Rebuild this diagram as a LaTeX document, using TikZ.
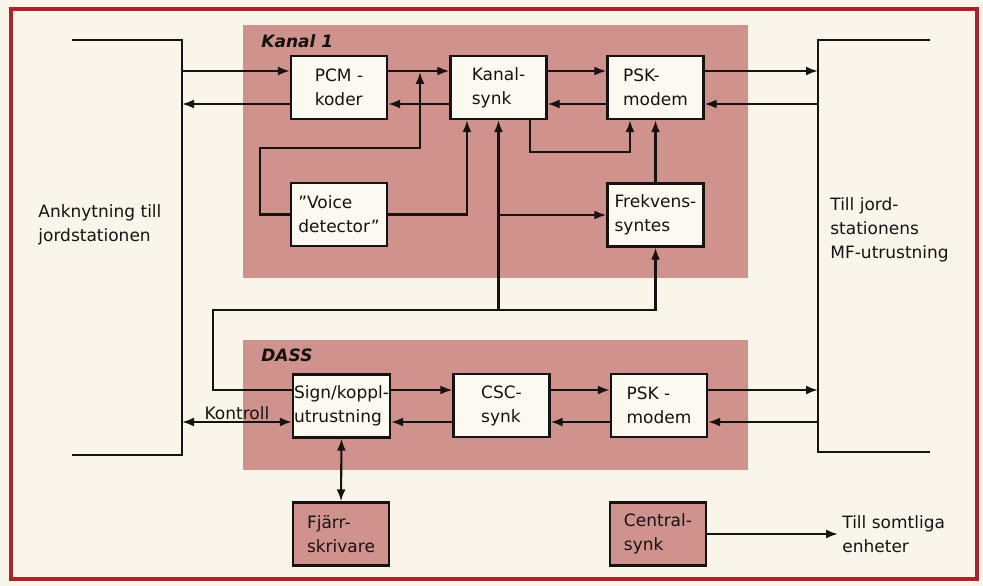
\documentclass[tikz,border=0pt]{standalone}
\usepackage{fontspec}
\setmainfont{DejaVu Sans}
\usetikzlibrary{arrows.meta}
\definecolor{rosa}{RGB}{208,146,140}
\definecolor{papper}{RGB}{250,245,234}
\definecolor{ram}{RGB}{170,34,44}
\definecolor{blockfarg}{RGB}{252,249,241}
\definecolor{linje}{RGB}{22,18,18}
\begin{document}
\begin{tikzpicture}[x=1pt, y=-1pt, line width=2.1pt, color=linje,
        >={Latex[length=12pt,width=9pt]},
        font=\fontsize{17}{24}\selectfont,
        block/.style={draw, fill=blockfarg, line width=2.3pt, minimum width=96pt,
            minimum height=63pt, align=left, inner sep=1pt},
        rubrik/.style={font=\fontsize{17}{24}\selectfont\bfseries\itshape, anchor=west}]
        % Bakgrund och ram
        \fill[papper] (0,0) rectangle (983,586);
        \useasboundingbox (0,0) rectangle (983,586);
        \draw[ram, line width=3.5pt] (11,9) rectangle (977,579);
        \fill[rosa] (243,25) rectangle (748,278);
        \fill[rosa] (243,340) rectangle (748,470);
        \node[rubrik] (kanal) at (257,41) {Kanal 1};
        \node[rubrik] (dass) at (257,355) {DASS};

        % Nivåer och anslutningar
        \coordinate (r1) at (0,71);
        \coordinate (r2) at (0,104);
        \coordinate (r3) at (0,390);
        \coordinate (r4) at (0,422);
        \coordinate (vb) at (182,0);
        \coordinate (hb) at (818,0);
        \coordinate (k1) at (213,310);
        \coordinate (v1) at (260,148);
        \coordinate (v2) at (420,72);
        \draw (72,40) -- (182,40) -- (182,455) -- (72,455);
        \draw (930,40) -- (818,40) -- (818,452) -- (930,452);
        \node[anchor=west, align=left] (ankn) at (34,224.5) {Anknytning till\\jordstationen};
        \node[anchor=west, align=left] (jord) at (826,230) {Till jord-\\stationens\\MF-utrustning};

        % Block
        \node[block] (pcm) at (339,87.5) {PCM -\\koder};
        \node[block] (ksynk) at (498.5,87.5) {Kanal-\\synk};
        \node[block] (psk1) at (655.5,87.5) {PSK-\\modem};
        \node[block] (voice) at (339,214.5) {”Voice\\detector”};
        \node[block] (frekv) at (655.5,215) {Frekvens-\\syntes};
        \node[block] (sign) at (341.5,406) {Sign/koppl-\\utrustning};
        \node[block] (csc) at (501.5,405.5) {CSC-\\synk};
        \node[block] (psk2) at (659,405.5) {PSK -\\modem};
        \node[block, fill=rosa] (fjarr) at (341,534) {Fjärr-\\skrivare};
        \node[block, fill=rosa] (central) at (658,534) {Central-\\synk};
        \node[anchor=west, align=left] (alla) at (838,534) {Till somtliga\\enheter};

        % Kanal 1
        \draw[->] (vb |- r1) -- (pcm.west |- r1);
        \draw[->] (pcm.east |- r1) -- (ksynk.west |- r1);
        \draw[->] (ksynk.east |- r1) -- (psk1.west |- r1);
        \draw[->] (psk1.east |- r1) -- (hb |- r1);
        \draw[->] (hb |- r2) -- (psk1.east |- r2);
        \draw[->] (psk1.west |- r2) -- (ksynk.east |- r2);
        \draw[->] (ksynk.west |- r2) -- (pcm.east |- r2);
        \draw[->] (pcm.west |- r2) -- (vb |- r2);
        \draw[->] (voice.west) -| (v1) -| (v2);
        \draw[->] (voice.east) -| ([xshift=-31.5pt]ksynk.south);
        \draw[->] ([xshift=31.5pt]ksynk.south) -- ++(0,32) -| ([xshift=-25.5pt]psk1.south);
        \draw[->] (frekv.north) -- (psk1.south);
        \draw[->] (ksynk.south |- k1) -- (ksynk.south);
        \draw[->] (ksynk.south |- frekv.west) -- (frekv.west);
        \draw[->] (sign.west |- r3) -| (k1) -| (frekv.south);

        % DASS
        \draw[->] (sign.east |- r3) -- (csc.west |- r3);
        \draw[->] (csc.east |- r3) -- (psk2.west |- r3);
        \draw[->] (psk2.east |- r3) -- (hb |- r3);
        \draw[->] (hb |- r4) -- (psk2.east |- r4);
        \draw[->] (psk2.west |- r4) -- (csc.east |- r4);
        \draw[->] (csc.west |- r4) -- (sign.east |- r4);
        \draw[<->] (vb |- r4) -- node[above, inner sep=1pt] {Kontroll} (sign.west |- r4);
        \draw[<->] (sign.south) -- (fjarr.north);
        \draw[->] (central.east) -- (alla.west);
\end{tikzpicture}
\end{document}
